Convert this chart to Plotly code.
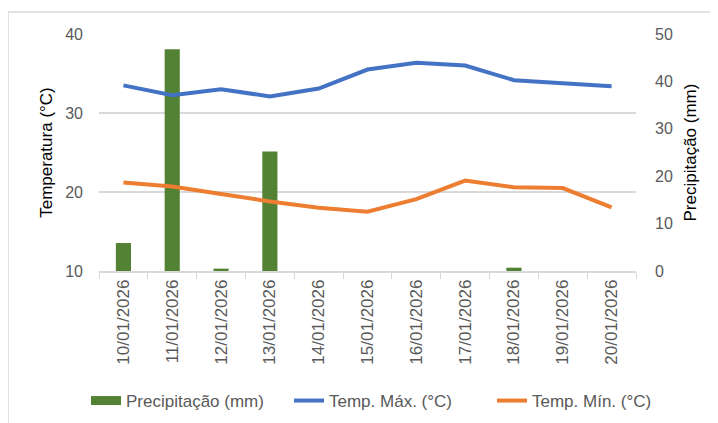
import plotly.graph_objects as go

datas = ["10/01/2026", "11/01/2026", "12/01/2026", "13/01/2026", "14/01/2026",
         "15/01/2026", "16/01/2026", "17/01/2026", "18/01/2026", "19/01/2026", "20/01/2026"]
precipitacao = [5.9, 46.8, 0.5, 25.2, 0, 0, 0, 0, 0.7, 0, 0]
temp_max = [33.5, 32.25, 33.0, 32.1, 33.1, 35.5, 36.35, 36.0, 34.15, 33.8, 33.4]
temp_min = [21.2, 20.7, 19.75, 18.8, 18.0, 17.5, 19.1, 21.45, 20.6, 20.5, 18.05]

FONT = "Liberation Sans"
GREY = "#595959"
GREEN = "#548235"

OFF = 8  # default page body margin
W, H = 718 - OFF, 423 - OFF
# plot area in window pixels: x 99..636, y 34..271
L, R, T, B = 99 - OFF, 718 - 636, 34 - OFF, 423 - 271
PW, PH = W - L - R, H - T - B


def px(xw):
    return (xw - OFF - L) / PW


def py(yw):
    return (H - B - (yw - OFF)) / PH


fig = go.Figure()
fig.add_trace(go.Bar(x=datas, y=precipitacao, name="Precipitação (mm)", showlegend=False,
                     marker=dict(color=GREEN, line=dict(width=0)), yaxis="y"))
# legend proxy for the bars (wide rectangle swatch)
fig.add_trace(go.Scatter(x=[None], y=[None], name="Precipitação (mm)", mode="lines",
                         line=dict(color=GREEN, width=9), yaxis="y"))
fig.add_trace(go.Scatter(x=datas, y=temp_max, name="Temp. Máx. (°C)", mode="lines",
                         line=dict(color="#4472C4", width=4), yaxis="y2"))
fig.add_trace(go.Scatter(x=datas, y=temp_min, name="Temp. Mín. (°C)", mode="lines",
                         line=dict(color="#ED7D31", width=4), yaxis="y2"))

fig.update_layout(
    width=W, height=H,
    margin=dict(l=L, r=R, t=T, b=B, autoexpand=False),
    paper_bgcolor="white", plot_bgcolor="white",
    font=dict(family=FONT, color=GREY, size=16),
    bargap=0.69,
    showlegend=True,
    legend=dict(orientation="h", x=px(86), xanchor="left", y=py(401), yanchor="middle",
                entrywidth=158, entrywidthmode="pixels",
                font=dict(size=17, color=GREY), bgcolor="rgba(0,0,0,0)"),
    xaxis=dict(type="category", tickangle=-90, showgrid=False, showline=True, automargin=False,
               linecolor="#d9d9d9", linewidth=1.5, ticks="outside", tickson="boundaries",
               tickcolor="#d9d9d9", ticklen=6, tickfont=dict(size=17, color=GREY)),
    yaxis=dict(side="right", range=[0, 50], dtick=10, showgrid=False, zeroline=False,
               showline=False, ticks="", automargin=False, ticklabelstandoff=18,
               tickfont=dict(size=16, color=GREY),
               title=dict(text="Precipitação (mm)", font=dict(size=17, color="#000000"), standoff=12)),
    yaxis2=dict(side="left", overlaying="y", range=[10, 40], dtick=10, showgrid=True,
                gridcolor="#d9d9d9", gridwidth=1.5, zeroline=False, showline=False, ticks="",
                automargin=False, ticklabelstandoff=15,
                tickfont=dict(size=16, color=GREY),
                title=dict(text="Temperatura (°C)", font=dict(size=17, color="#000000"), standoff=8)),
    shapes=[dict(type="rect", xref="paper", yref="paper",
                 x0=px(8), x1=px(740), y0=py(445), y1=py(12),
                 line=dict(color="#d9d9d9", width=1.5), fillcolor="rgba(0,0,0,0)", layer="below")],
)

fig.write_html("out.html")
